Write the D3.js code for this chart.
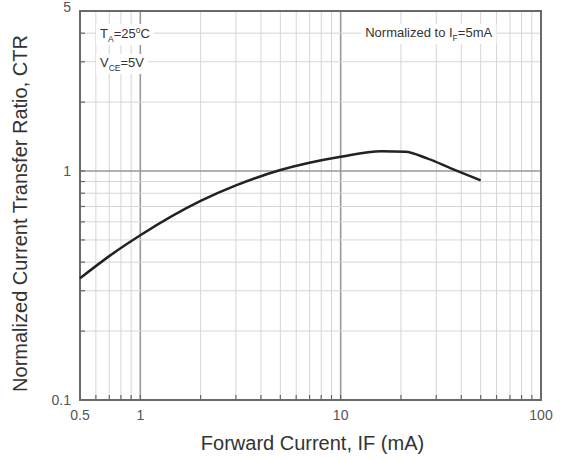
<!DOCTYPE html>
<html>
<head>
<meta charset="utf-8">
<script src="https://cdn.jsdelivr.net/npm/d3@7"></script>
<style>
  body { margin: 0; background: #fff; }
  svg { font-family: "Liberation Sans", Arial, sans-serif; }
</style>
</head>
<body>
<div id="chart"></div>
<script>
// Curve: forward current (mA) vs normalized CTR
const forwardCurrent = [0.5, 0.7, 1, 2, 3, 5, 10, 16, 21, 27, 36, 50];
const ctrValues = [0.34, 0.425, 0.524, 0.74, 0.865, 1.01, 1.155, 1.22, 1.215, 1.135, 1.022, 0.91];

const xTickLabels = [0.5, 1, 10, 100];
const yTickLabels = [0.1, 1, 5];
const xMajor = [1, 10];
const yMajor = [1];

const width = 566, height = 460;
const margin = {top: 11, right: 25, bottom: 60, left: 80};
const w = width - margin.left - margin.right;
const h = height - margin.top - margin.bottom;

const svg = d3.select("#chart").append("svg")
    .attr("width", width)
    .attr("height", height);

const g = svg.append("g")
    .attr("transform", `translate(${margin.left},${margin.top})`);

const x = d3.scaleLog().domain([0.5, 100]).range([0, w]);
const y = d3.scaleLog().domain([0.1, 5]).range([h, 0]);

const xMinor = x.ticks().filter(d => d > 0.5 && d < 100);
const yMinor = y.ticks().filter(d => d > 0.1 && d < 5);

// grid
g.append("g").selectAll("line")
    .data(xMinor)
    .join("line")
    .attr("x1", d => x(d)).attr("x2", d => x(d))
    .attr("y1", 0).attr("y2", h)
    .attr("stroke", d => xMajor.includes(d) ? "#999" : "#d6d6d6")
    .attr("stroke-width", d => xMajor.includes(d) ? 1.6 : 1);

g.append("g").selectAll("line")
    .data(yMinor)
    .join("line")
    .attr("x1", 0).attr("x2", w)
    .attr("y1", d => y(d)).attr("y2", d => y(d))
    .attr("stroke", d => yMajor.includes(d) ? "#999" : "#d6d6d6")
    .attr("stroke-width", d => yMajor.includes(d) ? 1.6 : 1);

// inward minor ticks
g.append("g").selectAll("line")
    .data(xMinor)
    .join("line")
    .attr("x1", d => x(d)).attr("x2", d => x(d))
    .attr("y1", h).attr("y2", h - 5)
    .attr("stroke", "#666").attr("stroke-width", 1.2);

g.append("g").selectAll("line")
    .data(yMinor)
    .join("line")
    .attr("x1", 0).attr("x2", 5)
    .attr("y1", d => y(d)).attr("y2", d => y(d))
    .attr("stroke", "#666").attr("stroke-width", 1.2);

// frame
g.append("rect")
    .attr("width", w).attr("height", h)
    .attr("fill", "none")
    .attr("stroke", "#6a6a6a")
    .attr("stroke-width", 2);

// tick labels
g.append("g").selectAll("text")
    .data(xTickLabels)
    .join("text")
    .attr("x", d => x(d))
    .attr("y", h + 20)
    .attr("text-anchor", "middle")
    .attr("font-size", 14)
    .attr("fill", "#555")
    .text(d => d);

g.append("g").selectAll("text")
    .data(yTickLabels)
    .join("text")
    .attr("x", -9)
    .attr("y", d => y(d))
    .attr("dy", d => d === 5 ? "0.1em" : "0.35em")
    .attr("text-anchor", "end")
    .attr("font-size", 14)
    .attr("fill", "#555")
    .text(d => d);

// axis titles
svg.append("text")
    .attr("x", margin.left + x(Math.sqrt(0.5 * 100)) + 2)
    .attr("y", 450)
    .attr("text-anchor", "middle")
    .attr("font-size", 20)
    .attr("fill", "#333")
    .text("Forward Current, IF (mA)");

svg.append("text")
    .attr("transform", `translate(27,${margin.top + h / 2 + 8}) rotate(-90)`)
    .attr("text-anchor", "middle")
    .attr("font-size", 20)
    .attr("fill", "#333")
    .text("Normalized Current Transfer Ratio, CTR");

// annotations with white background
const notes = g.append("g");
function label(px, py, parts, anchor) {
    const t = notes.append("text")
        .attr("x", px).attr("y", py)
        .attr("text-anchor", anchor || "start")
        .attr("font-size", 13)
        .attr("fill", "#333");
    parts.forEach(p => {
        t.append("tspan")
            .attr("font-size", p.sub || p.sup ? 8.5 : 13)
            .attr("dy", p.sub ? 4 : p.sup ? -5 : (p.back ? p.back : 0))
            .text(p.s);
    });
    const bb = t.node().getBBox();
    notes.insert("rect", () => t.node())
        .attr("x", bb.x - 4).attr("y", bb.y - 1)
        .attr("width", bb.width + 8).attr("height", bb.height + 2)
        .attr("fill", "#fff");
    return t;
}

label(20, 27, [{s: "T"}, {s: "A", sub: true}, {s: "=25", back: -4}, {s: "o", sup: true}, {s: "C", back: 5}]);
label(20, 56, [{s: "V"}, {s: "CE", sub: true}, {s: "=5V", back: -4}]);
label(x(27.5), 26, [{s: "Normalized to I"}, {s: "F", sub: true}, {s: "=5mA", back: -4}], "middle");

// curve
const pts = forwardCurrent.map((d, i) => [x(d), y(ctrValues[i])]);
g.append("path")
    .attr("d", d3.line().curve(d3.curveMonotoneX)(pts))
    .attr("fill", "none")
    .attr("stroke", "#222")
    .attr("stroke-width", 2.5);
</script>
</body>
</html>
